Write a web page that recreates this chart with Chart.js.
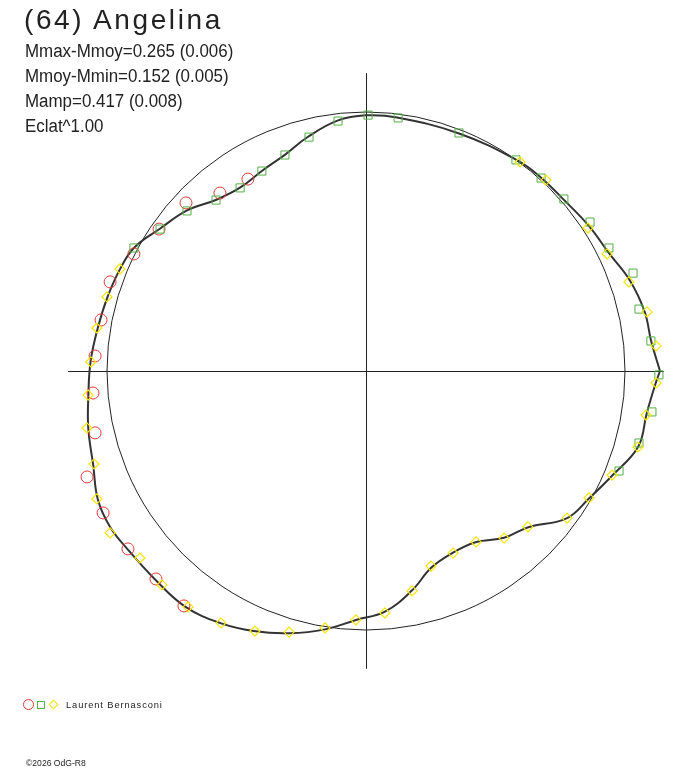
<!DOCTYPE html>
<html>
<head>
<meta charset="utf-8">
<title>(64) Angelina</title>
<script src="https://cdn.jsdelivr.net/npm/chart.js@4.4.1/dist/chart.umd.min.js"></script>
<style>
  body { margin: 0; background: #fff; }
  #wrap { position: relative; width: 688px; height: 768px; overflow: hidden; }
  #plot { position: absolute; left: 0; top: 0; }
  .txt { position: absolute; white-space: nowrap; color: #222; font-family: "Liberation Sans", Arial, sans-serif; line-height: 1; }
  #title { left: 24px; top: 6px; font-size: 28px; letter-spacing: 2.6px; }
  .stat { left: 25px; font-size: 18px; transform: scaleX(0.94); transform-origin: 0 0; }
  #author { left: 66px; top: 701px; font-size: 9.3px; letter-spacing: 0.9px; }
  #copy { left: 26px; top: 759px; font-size: 8.6px; }
  .sym { position: absolute; box-sizing: border-box; }
</style>
</head>
<body>
<div id="wrap">
  <canvas id="plot" width="688" height="768"></canvas>
  <div class="txt" id="title">(64) Angelina</div>
  <div class="txt stat" style="top:42px">Mmax-Mmoy=0.265 (0.006)</div>
  <div class="txt stat" style="top:67px">Mmoy-Mmin=0.152 (0.005)</div>
  <div class="txt stat" style="top:92px">Mamp=0.417 (0.008)</div>
  <div class="txt stat" style="top:117px">Eclat^1.00</div>
  <div class="sym" style="left:23px;top:699px;width:11px;height:11px;border:1px solid #e43a36;border-radius:50%"></div>
  <div class="sym" style="left:37px;top:701px;width:8px;height:8px;border:1px solid #54b046"></div>
  <div class="sym" style="left:50px;top:701px;width:7px;height:7px;border:1px solid #f7e400;transform:rotate(45deg)"></div>
  <div class="txt" id="author">Laurent Bernasconi</div>
  <div class="txt" id="copy">©2026 OdG-R8</div>
</div>
<script>
// courbe moyenne : angle (deg) et rayon (1 = cercle de reference)
var curvePhase = [0, 6, 12, 19, 26, 33, 41, 48, 54.5, 68.6, 83, 90, 96.5, 104, 110.5, 117.4, 124.5, 131.3, 138.2, 145.4,
  152, 157.5, 164, 171, 178, 185, 191.7, 199, 205.6, 211.3, 217, 224.6, 232.5, 240, 247, 253.7, 261, 267.7,
  274.5, 281.8, 288.4, 295.5, 302.6, 309.6, 316.1, 323.7, 330.3, 337, 344.5, 351.4, 357.7];
var curveRadius = [1.135, 1.107, 1.100, 1.077, 1.042, 1.027, 1.010, 1.007, 1.001, 0.985, 0.986, 0.987, 0.973, 0.931, 0.892, 0.871, 0.859, 0.879, 0.929, 0.967,
  1.014, 1.028, 1.038, 1.049, 1.064, 1.076, 1.095, 1.114, 1.148, 1.157, 1.149, 1.145, 1.147, 1.124, 1.092, 1.055, 1.010, 0.962,
  0.932, 0.866, 0.800, 0.778, 0.785, 0.836, 0.870, 0.961, 0.992, 1.033, 1.091, 1.096, 1.120];

// mesures (x, y)
var redPoints = [[-0.456, 0.741], [-0.564, 0.687], [-0.695, 0.649], [-0.799, 0.548], [-0.896, 0.452], [-0.988, 0.344],
  [-1.023, 0.197], [-1.046, 0.058], [-1.054, -0.085], [-1.046, -0.239], [-1.077, -0.409], [-1.015, -0.548],
  [-0.919, -0.687], [-0.811, -0.803], [-0.703, -0.907]];
var greenPoints = [[1.131, -0.015], [1.100, 0.116], [1.054, 0.239], [1.031, 0.378], [0.938, 0.475], [0.865, 0.575],
  [0.764, 0.664], [0.676, 0.745], [0.579, 0.815], [0.359, 0.919], [0.124, 0.977], [0.008, 0.988], [-0.108, 0.965],
  [-0.220, 0.903], [-0.313, 0.834], [-0.402, 0.772], [-0.486, 0.707], [-0.579, 0.660], [-0.691, 0.618],
  [-0.795, 0.548], [-0.896, 0.475], [1.104, -0.158], [1.054, -0.278], [0.977, -0.386]];
var yellowPoints = [[0.595, 0.807], [0.695, 0.737], [0.857, 0.552], [0.931, 0.452], [1.015, 0.344], [1.085, 0.228],
  [1.120, 0.097], [-0.950, 0.394], [-1.000, 0.286], [-1.039, 0.166], [-1.062, 0.035], [-1.073, -0.093],
  [-1.077, -0.220], [-1.050, -0.359], [-1.039, -0.494], [-0.988, -0.625], [-0.873, -0.722], [-0.788, -0.826],
  [-0.687, -0.911], [-0.560, -0.973], [-0.429, -1.004], [-0.297, -1.008], [-0.158, -0.992], [-0.039, -0.961],
  [0.073, -0.934], [0.178, -0.849], [0.251, -0.753], [0.336, -0.703], [0.425, -0.660], [0.533, -0.645],
  [0.625, -0.602], [0.776, -0.568], [0.861, -0.490], [0.950, -0.402], [1.050, -0.293], [1.081, -0.170],
  [1.120, -0.046]];

var axisLimit = 1.15;

function toXY(list) {
  return list.map(function (p) { return { x: p[0], y: p[1] }; });
}

var curve = curvePhase.map(function (a, i) {
  var t = a * Math.PI / 180;
  return { x: curveRadius[i] * Math.cos(t), y: curveRadius[i] * Math.sin(t) };
});
curve.push(curve[0]);

// cercle de reference et axes
var framePlugin = {
  id: 'frame',
  beforeDatasetsDraw: function (chart) {
    var c = chart.ctx, sx = chart.scales.x, sy = chart.scales.y;
    var cx = sx.getPixelForValue(0), cy = sy.getPixelForValue(0);
    var r = sx.getPixelForValue(1) - cx;
    c.save();
    c.strokeStyle = '#222';
    c.lineWidth = 1;
    c.beginPath();
    c.moveTo(sx.getPixelForValue(-axisLimit), cy + 0.5);
    c.lineTo(sx.getPixelForValue(axisLimit), cy + 0.5);
    c.moveTo(cx + 0.5, sy.getPixelForValue(axisLimit));
    c.lineTo(cx + 0.5, sy.getPixelForValue(-axisLimit));
    c.stroke();
    c.beginPath();
    c.arc(cx, cy, r, 0, Math.PI * 2);
    c.stroke();
    c.restore();
  }
};

var ctx = document.getElementById('plot').getContext('2d');
var chart = new Chart(ctx, {
  type: 'scatter',
  data: {
    datasets: [{
      data: curve,
      showLine: true,
      borderColor: '#333',
      borderWidth: 2,
      pointRadius: 0,
      tension: 0.4,
      order: 10
    }, {
      data: toXY(redPoints),
      pointStyle: 'circle',
      pointRadius: 6,
      borderColor: '#e43a36',
      backgroundColor: 'rgba(0,0,0,0)',
      borderWidth: 1,
      order: 3
    }, {
      data: toXY(greenPoints),
      pointStyle: 'rect',
      pointRadius: 5.7,
      borderColor: '#54b046',
      backgroundColor: 'rgba(0,0,0,0)',
      borderWidth: 1,
      order: 2
    }, {
      data: toXY(yellowPoints),
      pointStyle: 'rectRot',
      pointRadius: 5,
      borderColor: '#f7e400',
      backgroundColor: 'rgba(0,0,0,0)',
      borderWidth: 1.2,
      order: 1
    }]
  },
  options: {
    responsive: false,
    animation: false,
    layout: { padding: 0, autoPadding: false },
    scales: {
      x: { type: 'linear', display: false, min: -366 / 259, max: 322 / 259 },
      y: { type: 'linear', display: false, min: -397 / 259, max: 371 / 259 }
    },
    plugins: {
      legend: { display: false },
      tooltip: { enabled: false }
    }
  },
  plugins: [framePlugin]
});
</script>
</body>
</html>
